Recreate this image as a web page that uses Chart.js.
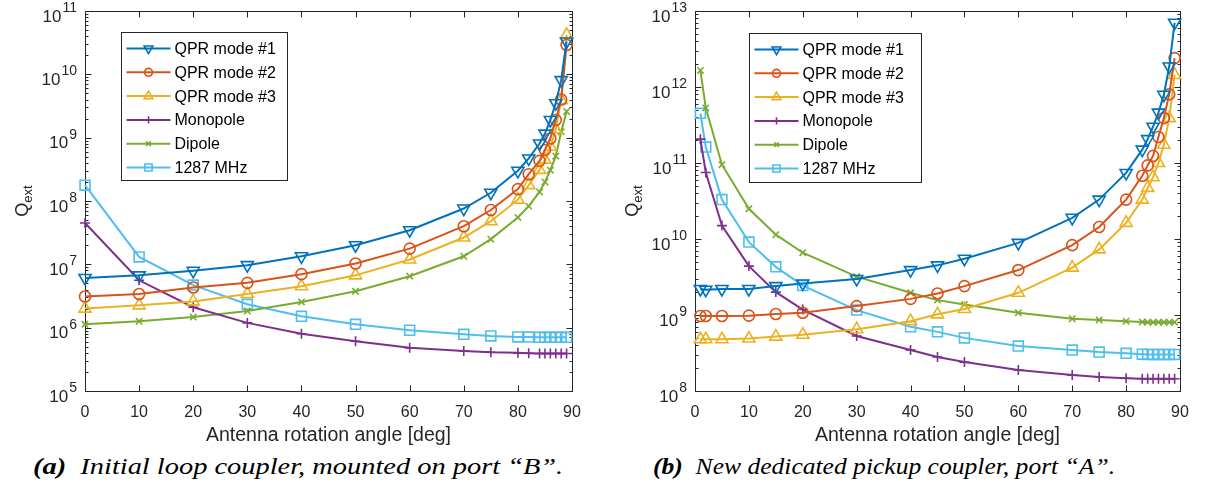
<!DOCTYPE html>
<html>
<head>
<meta charset="utf-8">
<script src="https://cdn.jsdelivr.net/npm/chart.js@4.4.0/dist/chart.umd.min.js"></script>
<style>
  body { margin: 0; background: #fff; width: 1207px; height: 500px; position: relative; overflow: hidden; }
  .panel { position: absolute; top: 0; width: 600px; height: 450px; }
  .cap { position: absolute; top: 454px; font-family: "Liberation Serif", serif; font-style: italic; font-size: 23px; line-height: 26px; white-space: nowrap; color: #000; transform-origin: 0 50%; }
  .cap b { font-weight: bold; }
</style>
</head>
<body>
<div class="panel" style="left:0"><canvas id="chartA" width="600" height="450"></canvas></div>
<div class="panel" style="left:607px"><canvas id="chartB" width="600" height="450"></canvas></div>
<div class="cap" id="capA" data-w="530" style="left:33px"><b>(a)</b>&nbsp; Initial loop coupler, mounted on port “B”.</div>
<div class="cap" id="capB" data-w="462" style="left:653px"><b>(b)</b>&nbsp; New dedicated pickup coupler, port “A”.</div>
<script>
// ---- data (a): initial loop coupler
var anglesA = [0, 10, 20, 30, 40, 50, 60, 70, 75, 80, 82, 84, 85, 86, 87, 88, 89];
var qpr1A = [6.1e6, 6.7e6, 7.9e6, 9.7e6, 1.34e7, 2.0e7, 3.46e7, 7.6e7, 1.35e8, 3.0e8, 4.7e8, 8.1e8, 1.16e9, 1.9e9, 3.5e9, 8.1e9, 3.3e10];
var qpr2A = [3.1e6, 3.4e6, 4.3e6, 5.1e6, 7.0e6, 1.03e7, 1.77e7, 4.0e7, 7.2e7, 1.54e8, 2.65e8, 4.3e8, 6.4e8, 9.7e8, 1.9e9, 4.0e9, 2.9e10];
var qpr3A = [2.0e6, 2.25e6, 2.6e6, 3.4e6, 4.5e6, 6.7e6, 1.19e7, 2.65e7, 4.8e7, 1.05e8, 1.78e8, 3.1e8, 4.5e8, 7.2e8, 1.35e9, 3.9e9, 4.2e10];
var monoA = [4.5e7, 5.6e6, 2.1e6, 1.19e6, 8.0e5, 6.1e5, 4.8e5, 4.3e5, 4.1e5, 4.0e5, 3.95e5, 3.9e5, 3.9e5, 3.9e5, 3.9e5, 3.9e5, 3.9e5];
var dipA = [1.13e6, 1.26e6, 1.47e6, 1.83e6, 2.55e6, 3.75e6, 6.5e6, 1.34e7, 2.5e7, 5.5e7, 8.3e7, 1.39e8, 2.0e8, 3.07e8, 5.1e8, 1.24e9, 2.6e9];
var f1287A = [1.78e8, 1.31e7, 4.7e6, 2.34e6, 1.51e6, 1.13e6, 9.1e5, 7.85e5, 7.4e5, 7.15e5, 7.1e5, 7.05e5, 7.05e5, 7.05e5, 7.05e5, 7.05e5, 7.05e5];

// ---- data (b): new dedicated pickup coupler
var anglesB = [1, 2, 5, 10, 15, 20, 30, 40, 45, 50, 60, 70, 75, 80, 83, 84, 85, 86, 87, 88, 89];
var qpr1B = [2.2e9, 2.15e9, 2.2e9, 2.2e9, 2.4e9, 2.6e9, 2.98e9, 3.9e9, 4.5e9, 5.5e9, 8.9e9, 1.9e10, 3.3e10, 7.4e10, 1.5e11, 2.06e11, 3.0e11, 4.6e11, 7.9e11, 1.86e12, 7.0e12];
var qpr2B = [9.7e8, 9.7e8, 9.7e8, 9.8e8, 1.03e9, 1.07e9, 1.31e9, 1.63e9, 1.92e9, 2.4e9, 3.9e9, 8.3e9, 1.44e10, 3.3e10, 6.8e10, 9.3e10, 1.24e11, 2.2e11, 3.9e11, 8.0e11, 2.4e12];
var qpr3B = [4.8e8, 4.8e8, 4.8e8, 4.9e8, 5.2e8, 5.5e8, 6.5e8, 8.3e8, 1.02e9, 1.2e9, 1.96e9, 4.2e9, 7.3e9, 1.63e10, 3.3e10, 4.7e10, 6.5e10, 1.0e11, 1.74e11, 3.9e11, 1.44e12];
var monoB = [2.06e11, 7.5e10, 1.5e10, 4.4e9, 2.0e9, 1.18e9, 5.3e8, 3.46e8, 2.8e8, 2.4e8, 1.89e8, 1.62e8, 1.53e8, 1.47e8, 1.45e8, 1.45e8, 1.45e8, 1.45e8, 1.45e8, 1.45e8, 1.45e8];
var dipB = [1.65e12, 5.3e11, 9.5e10, 2.5e10, 1.14e10, 6.6e9, 3.2e9, 1.96e9, 1.57e9, 1.37e9, 1.07e9, 8.9e8, 8.6e8, 8.3e8, 8.1e8, 8.05e8, 8.05e8, 8.05e8, 8.05e8, 8.05e8, 8.05e8];
var f1287B = [4.5e11, 1.62e11, 3.3e10, 9.1e9, 4.3e9, 2.44e9, 1.16e9, 7.0e8, 6.0e8, 5.0e8, 3.9e8, 3.46e8, 3.25e8, 3.13e8, 3.05e8, 3.03e8, 3.03e8, 3.03e8, 3.03e8, 3.03e8, 3.03e8];

var seriesNames = ['QPR mode #1', 'QPR mode #2', 'QPR mode #3', 'Monopole', 'Dipole', '1287 MHz'];
var xTicks = [0, 10, 20, 30, 40, 50, 60, 70, 80, 90];
var decadesA = [5, 6, 7, 8, 9, 10, 11];
var decadesB = [8, 9, 10, 11, 12, 13];

// matlab default colours
var colors = ['#0072BD', '#D95319', '#EDB120', '#7E2F8E', '#77AC30', '#4DBEEE'];
var markers = [
  { style: 'triangle', rot: 180, r: 7 },
  { style: 'circle', rot: 0, r: 5.5 },
  { style: 'triangle', rot: 0, r: 7 },
  { style: 'cross', rot: 0, r: 5 },
  { style: 'crossRot', rot: 0, r: 4.5 },
  { style: 'rect', rot: 0, r: 7 }
];

var FONT = '"Liberation Sans", Arial, Helvetica, sans-serif';
var AXC = '#262626';

function makeSets(angles, lists) {
  return lists.map(function (vals, i) {
    return {
      label: seriesNames[i],
      data: angles.map(function (a, k) { return { x: a, y: vals[k] }; }),
      borderColor: colors[i],
      borderWidth: 2,
      pointStyle: markers[i].style,
      pointRotation: markers[i].rot,
      pointRadius: markers[i].r,
      pointBorderWidth: 1.6,
      pointBackgroundColor: 'rgba(0,0,0,0)',
      pointBorderColor: colors[i],
      tension: 0,
      clip: false
    };
  });
}

var matlabAxes = {
  id: 'matlabAxes',
  beforeDatasetsDraw: function (chart, args, o) {
    var ctx = chart.ctx, a = chart.chartArea;
    var xs = chart.scales.x, ys = chart.scales.y;
    var L = Math.round(a.left) + 0.5, R = Math.round(a.right) + 0.5;
    var T = Math.round(a.top) + 0.5, B = Math.round(a.bottom) + 0.5;
    ctx.save();
    ctx.strokeStyle = AXC;
    ctx.lineWidth = 1;
    ctx.beginPath();
    // x ticks, top and bottom, pointing in
    xTicks.forEach(function (v) {
      var px = Math.round(xs.getPixelForValue(v)) + 0.5;
      ctx.moveTo(px, B); ctx.lineTo(px, B - 6);
      ctx.moveTo(px, T); ctx.lineTo(px, T + 6);
    });
    // log ticks left and right
    o.decades.forEach(function (d, i) {
      for (var m = 1; m <= 9; m++) {
        if (m > 1 && i === o.decades.length - 1) break;
        var py = Math.round(ys.getPixelForValue(m * Math.pow(10, d))) + 0.5;
        var len = m === 1 ? 6 : 3;
        ctx.moveTo(L, py); ctx.lineTo(L + len, py);
        ctx.moveTo(R, py); ctx.lineTo(R - len, py);
      }
    });
    ctx.stroke();
    ctx.strokeRect(L, T, R - L, B - T);

    // y labels 10^n
    ctx.fillStyle = AXC;
    ctx.textAlign = 'right';
    ctx.textBaseline = 'alphabetic';
    o.decades.forEach(function (d) {
      var py = ys.getPixelForValue(Math.pow(10, d));
      var ex = String(d);
      ctx.font = '14px ' + FONT;
      var ew = ctx.measureText(ex).width;
      ctx.fillText(ex, a.left - 8, py + 1);
      ctx.font = '17px ' + FONT;
      ctx.fillText('10', a.left - 9 - ew, py + 10.5);
    });

    // y title Q_ext
    ctx.translate(a.left - 63, (a.top + a.bottom) / 2);
    ctx.rotate(-Math.PI / 2);
    ctx.textAlign = 'left';
    ctx.font = '18px ' + FONT;
    var qw = ctx.measureText('Q').width;
    ctx.font = '13px ' + FONT;
    var sw = ctx.measureText('ext').width;
    var s0 = -(qw + sw) / 2;
    ctx.font = '18px ' + FONT;
    ctx.fillText('Q', s0, 6);
    ctx.font = '13px ' + FONT;
    ctx.fillText('ext', s0 + qw, 10);
    ctx.restore();
  },
  afterDatasetsDraw: function (chart, args, o) {
    var ctx = chart.ctx, a = chart.chartArea;
    var x0 = Math.round(a.left + o.lx) + 0.5, y0 = Math.round(a.top + o.ly) + 0.5;
    ctx.save();
    ctx.fillStyle = '#fff';
    ctx.fillRect(x0, y0, o.lw, o.lh);
    ctx.strokeStyle = AXC;
    ctx.lineWidth = 1;
    ctx.strokeRect(x0, y0, o.lw, o.lh);
    chart.data.datasets.forEach(function (ds, i) {
      var y = y0 + 16 + i * 23.8;
      ctx.strokeStyle = ds.borderColor;
      ctx.lineWidth = ds.borderWidth;
      ctx.beginPath();
      ctx.moveTo(x0 + 5, y); ctx.lineTo(x0 + 49, y);
      ctx.stroke();
      ctx.lineWidth = ds.pointBorderWidth;
      ctx.fillStyle = 'rgba(0,0,0,0)';
      Chart.helpers.drawPoint(ctx, {
        pointStyle: ds.pointStyle, rotation: ds.pointRotation,
        radius: ds.pointRadius * 0.72, borderWidth: ds.pointBorderWidth
      }, x0 + 27, y);
      ctx.fillStyle = '#000';
      ctx.font = '16px ' + FONT;
      ctx.textAlign = 'left';
      ctx.textBaseline = 'middle';
      ctx.fillText(ds.label, x0 + 53, y + 1);
    });
    ctx.restore();
  }
};

function buildChart(id, angles, lists, yMin, yMax, yWidth, padRight, opts) {
  return new Chart(document.getElementById(id), {
    type: 'line',
    data: { datasets: makeSets(angles, lists) },
    plugins: [matlabAxes],
    options: {
      responsive: false,
      animation: false,
      layout: { padding: { top: 11, right: padRight, bottom: 0, left: 0 } },
      plugins: { legend: { display: false }, tooltip: { enabled: false }, matlabAxes: opts },
      scales: {
        x: {
          type: 'linear', min: 0, max: 90,
          grid: { display: false, drawTicks: false },
          border: { display: false },
          ticks: { stepSize: 10, padding: 12, color: AXC, font: { size: 16, family: FONT } },
          title: { display: true, text: 'Antenna rotation angle [deg]', color: AXC, font: { size: 19.5, family: FONT }, padding: { top: 0, bottom: 3 } },
          afterFit: function (s) { s.height = 59; }
        },
        y: {
          type: 'logarithmic', min: yMin, max: yMax,
          grid: { display: false },
          border: { display: false },
          ticks: { display: false },
          afterFit: function (s) { s.width = yWidth; }
        }
      }
    }
  });
}

buildChart('chartA', anglesA, [qpr1A, qpr2A, qpr3A, monoA, dipA, f1287A], 1e5, 1e11, 85, 28,
  { decades: decadesA, lx: 36, ly: 21, lw: 166, lh: 148 });
buildChart('chartB', anglesB, [qpr1B, qpr2B, qpr3B, monoB, dipB, f1287B], 1e8, 1e13, 88, 27,
  { decades: decadesB, lx: 54, ly: 22, lw: 172, lh: 149 });

// captions: stretch to the width of the original typesetting
['capA', 'capB'].forEach(function (id) {
  var el = document.getElementById(id);
  var target = +el.getAttribute('data-w');
  var w = el.offsetWidth;
  el.style.transform = 'scaleX(' + (target / w).toFixed(3) + ')';
});
</script>
</body>
</html>
